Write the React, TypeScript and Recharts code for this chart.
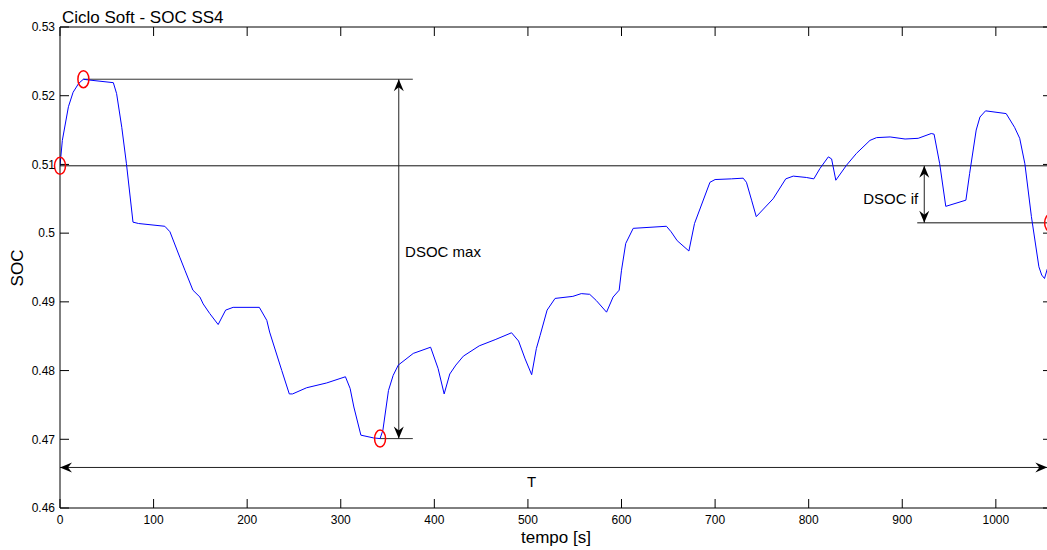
import {
  ComposedChart,
  Line,
  XAxis,
  YAxis,
  ReferenceLine,
  ReferenceDot,
} from 'recharts';

// tempo [s] / SOC samples
const tempo = [
  0, 2.5, 9, 14, 20, 25, 30, 57, 60.5, 66, 71, 78, 84, 112, 117.5, 128, 133.5, 142, 149.5, 153,
  160, 169, 177, 185, 213, 221, 224, 237, 245, 248.5, 263.5, 285, 305, 310, 314, 321.5, 335, 342,
  345, 351, 356, 361.5, 377.5, 396, 404, 410.5, 416.5, 423, 431, 448, 465, 482.5, 490, 497, 504,
  509, 513, 520.5, 529, 548, 557, 566, 573, 584, 591, 597.5, 600, 604.5, 612.5, 648, 653, 659.5,
  672, 678, 694.5, 700, 717.5, 730, 733.5, 739, 744, 762, 775.5, 783.5, 797.5, 805.5, 812, 821,
  824.5, 829, 840.5, 851, 865.5, 872.5, 887, 903, 917, 931, 934, 940, 946.5, 968, 972, 979, 983,
  989, 1011, 1020, 1025.5, 1031, 1038, 1046, 1049, 1052, 1055,
];
const soc = [
  0.5098, 0.5135, 0.5184, 0.5205, 0.5218, 0.5224, 0.5223, 0.5219, 0.5203, 0.5154, 0.5101, 0.5016,
  0.5014, 0.501, 0.5002, 0.4965, 0.4946, 0.4917, 0.4907, 0.4897, 0.4883, 0.4867, 0.4888, 0.4892,
  0.4892, 0.4873, 0.4856, 0.48, 0.4766, 0.4766, 0.4775, 0.4782, 0.4791, 0.4774, 0.4747, 0.4706,
  0.4702, 0.4701, 0.4713, 0.4771, 0.4793, 0.4808, 0.4825, 0.4834, 0.4803, 0.4766, 0.4795, 0.4808,
  0.4821, 0.4836, 0.4845, 0.4855, 0.4843, 0.4817, 0.4794, 0.4832, 0.4851, 0.4888, 0.4905, 0.4908,
  0.4912, 0.4911, 0.4902, 0.4885, 0.4907, 0.4917, 0.4946, 0.4985, 0.5007, 0.501, 0.5002, 0.4989,
  0.4974, 0.5014, 0.5074, 0.5078, 0.5079, 0.508, 0.5074, 0.5048, 0.5024, 0.505, 0.5079, 0.5083,
  0.5081, 0.5079, 0.5094, 0.5111, 0.5108, 0.5077, 0.5099, 0.5116, 0.5135, 0.5139, 0.514, 0.5137,
  0.5138, 0.5145, 0.5144, 0.5101, 0.5039, 0.5048, 0.5087, 0.515, 0.5169, 0.5178, 0.5174, 0.5154,
  0.5138, 0.5101, 0.5024, 0.4951, 0.4939, 0.4934, 0.4948,
];

const xTicks = [0, 100, 200, 300, 400, 500, 600, 700, 800, 900, 1000];
const yTicks = [0.46, 0.47, 0.48, 0.49, 0.5, 0.51, 0.52, 0.53];

const X_MAX = 1060;
const Y_MIN = 0.46;
const Y_MAX = 0.53;
const socFinal = 0.5015; // final SOC marked on the right edge
const finalMarkTempo = 1058;
const tArrowSoc = 0.4659; // height of the T arrow
const dsocMaxTempo = 362;
const guideEndTempo = 377;
const dsocIfTempo = 923.5;
const dsocIfLineStart = 916;

const data = tempo.map((t, i) => ({ tempo: t, soc: soc[i] }));
const socInit = soc[0];
const socMax = Math.max(...soc);
const tMax = tempo[soc.indexOf(socMax)];
const socMin = Math.min(...soc);
const tMin = tempo[soc.indexOf(socMin)];
const tEnd = tempo[tempo.length - 1];

const FONT = '"Liberation Sans", Arial, Helvetica, sans-serif';
const INK = '#000';
const TICK = 9;
const tickFont = { fill: INK, fontSize: 12, fontFamily: FONT };

const head = (x: number, y: number, ux: number, uy: number) => {
  const L = 12;
  const W = 5;
  const N = 4;
  const bx = x - ux * L;
  const by = y - uy * L;
  const nx = x - ux * (L - N);
  const ny = y - uy * (L - N);
  return `${x},${y} ${bx - uy * W},${by + ux * W} ${nx},${ny} ${bx + uy * W},${by - ux * W}`;
};

const DoubleArrow = (p: any) => {
  const { x1, y1, x2, y2 } = p;
  const len = Math.hypot(x2 - x1, y2 - y1) || 1;
  const ux = (x2 - x1) / len;
  const uy = (y2 - y1) / len;
  return (
    <g>
      <line x1={x1} y1={y1} x2={x2} y2={y2} stroke="#222" strokeWidth={1} />
      <polygon points={head(x2, y2, ux, uy)} fill={INK} />
      <polygon points={head(x1, y1, -ux, -uy)} fill={INK} />
    </g>
  );
};

// MATLAB-style inward ticks: short stubs at both ends of a full-span reference line
const TickStubs = (p: any) => {
  const { x1, y1, x2, y2 } = p;
  const vertical = Math.abs(x2 - x1) < Math.abs(y2 - y1);
  const s1 = Math.sign(y2 - y1) || 1;
  const s2 = Math.sign(x2 - x1) || 1;
  return vertical ? (
    <g>
      <line x1={x1} y1={y1} x2={x1} y2={y1 + s1 * TICK} stroke={INK} strokeWidth={1} />
      <line x1={x2} y1={y2} x2={x2} y2={y2 - s1 * TICK} stroke={INK} strokeWidth={1} />
    </g>
  ) : (
    <g>
      <line x1={x1} y1={y1} x2={x1 + s2 * TICK} y2={y1} stroke={INK} strokeWidth={1} />
      <line x1={x2} y1={y2} x2={x2 - s2 * TICK} y2={y2} stroke={INK} strokeWidth={1} />
    </g>
  );
};

const Marker = (p: any) => (
  <ellipse cx={p.cx} cy={p.cy} rx={5.5} ry={8.5} fill="none" stroke="#ff0000" strokeWidth={1.5} />
);

const note = (text: string, anchor: 'start' | 'middle' | 'end') => (p: any) => (
  <text x={p.cx} y={p.cy} dy="0.35em" textAnchor={anchor} fontSize={15} fill={INK} fontFamily={FONT}>
    {text}
  </text>
);

const fmtSoc = (v: number) => String(+Number(v).toFixed(2));

export default function App() {
  return (
    <div
      style={{
        position: 'absolute',
        left: 0,
        top: 0,
        width: 1047,
        height: 550,
        overflow: 'hidden',
        background: '#fff',
        fontFamily: FONT,
        color: INK,
      }}
    >
      <div style={{ position: 'absolute', left: 62, top: 9, fontSize: 17, lineHeight: '17px', whiteSpace: 'nowrap' }}>
        Ciclo Soft - SOC SS4
      </div>
      <div
        style={{
          position: 'absolute',
          left: 17,
          top: 268,
          fontSize: 17,
          lineHeight: '17px',
          transform: 'translate(-50%, -50%) rotate(-90deg)',
          whiteSpace: 'nowrap',
        }}
      >
        SOC
      </div>
      <ComposedChart width={1060} height={550} data={data} margin={{ top: 27, right: 8, bottom: 0, left: 0 }}>
        <XAxis
          dataKey="tempo"
          type="number"
          domain={[0, X_MAX]}
          ticks={xTicks}
          interval={0}
          allowDataOverflow
          height={42}
          tickSize={0}
          tickMargin={7}
          tickLine={false}
          axisLine={{ stroke: INK }}
          tick={tickFont}
          label={{ value: 'tempo [s]', position: 'insideBottom', offset: 7, fill: INK, fontSize: 17 }}
        />
        <YAxis
          type="number"
          domain={[Y_MIN, Y_MAX]}
          ticks={yTicks}
          interval={0}
          allowDataOverflow
          width={60}
          tickSize={0}
          tickMargin={5}
          tickLine={false}
          axisLine={{ stroke: INK }}
          tick={tickFont}
          tickFormatter={fmtSoc}
        />

        {/* box: top and right edges */}
        <ReferenceLine y={Y_MAX} stroke={INK} strokeWidth={1} />
        <ReferenceLine x={X_MAX} stroke={INK} strokeWidth={1} />
        {xTicks.map((t) => (
          <ReferenceLine key={`xt${t}`} x={t} shape={(p: any) => <TickStubs {...p} />} />
        ))}
        {yTicks.map((t) => (
          <ReferenceLine key={`yt${t}`} y={t} shape={(p: any) => <TickStubs {...p} />} />
        ))}

        <ReferenceLine segment={[{ x: 0, y: socInit }, { x: X_MAX, y: socInit }]} stroke="#111" strokeWidth={1} />
        <ReferenceLine segment={[{ x: tMax, y: socMax }, { x: guideEndTempo, y: socMax }]} stroke="#333" strokeWidth={1} />
        <ReferenceLine segment={[{ x: tMin, y: socMin }, { x: guideEndTempo, y: socMin }]} stroke="#333" strokeWidth={1} />
        <ReferenceLine segment={[{ x: dsocIfLineStart, y: socFinal }, { x: X_MAX, y: socFinal }]} stroke="#111" strokeWidth={1} />

        <ReferenceLine
          segment={[{ x: dsocMaxTempo, y: socMax }, { x: dsocMaxTempo, y: socMin }]}
          shape={(p: any) => <DoubleArrow {...p} />}
        />
        <ReferenceLine
          segment={[{ x: dsocIfTempo, y: socInit }, { x: dsocIfTempo, y: socFinal }]}
          shape={(p: any) => <DoubleArrow {...p} />}
        />
        <ReferenceLine
          segment={[{ x: 0, y: tArrowSoc }, { x: tEnd, y: tArrowSoc }]}
          shape={(p: any) => <DoubleArrow {...p} />}
        />

        <Line
          dataKey="soc"
          type="linear"
          stroke="#0000ff"
          strokeWidth={1}
          dot={false}
          activeDot={false}
          isAnimationActive={false}
        />

        <ReferenceDot x={0} y={socInit} ifOverflow="visible" shape={(p: any) => <Marker {...p} />} />
        <ReferenceDot x={tMax} y={socMax} ifOverflow="visible" shape={(p: any) => <Marker {...p} />} />
        <ReferenceDot x={tMin} y={socMin} ifOverflow="visible" shape={(p: any) => <Marker {...p} />} />
        <ReferenceDot x={finalMarkTempo} y={socFinal} ifOverflow="visible" shape={(p: any) => <Marker {...p} />} />

        <ReferenceDot x={368.7} y={0.4973} ifOverflow="visible" shape={note('DSOC max', 'start')} />
        <ReferenceDot x={917} y={0.505} ifOverflow="visible" shape={note('DSOC if', 'end')} />
        <ReferenceDot x={504} y={0.4638} ifOverflow="visible" shape={note('T', 'middle')} />
      </ComposedChart>
    </div>
  );
}
